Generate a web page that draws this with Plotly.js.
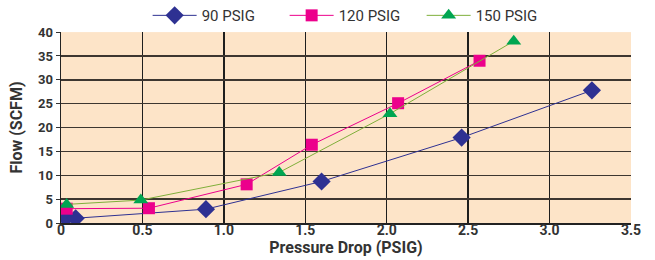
<!DOCTYPE html>
<html><head><meta charset="utf-8">
<script src="https://cdn.plot.ly/plotly-3.0.1.min.js"></script>
<style>html,body{margin:0;padding:0;background:#fff}#c{width:655px;height:260px}</style>
</head><body><div id="c"></div>
<script>
const seriesNames = ["90 PSIG", "120 PSIG", "150 PSIG"];
const x90 = [0.03, 0.09, 0.89, 1.60, 2.46, 3.26];
const y90 = [1.0, 1.0, 2.9, 8.7, 17.9, 27.8];
const x120 = [0.035, 0.54, 1.14, 1.54, 2.07, 2.57];
const y120 = [3.0, 3.1, 8.1, 16.4, 25.1, 34.0];
const x150 = [0.035, 0.49, 1.34, 2.02, 2.78];
const y150 = [3.9, 4.8, 10.6, 22.9, 38.1];
const xTickVals = [0, 0.5, 1.0, 1.5, 2.0, 2.5, 3.0, 3.5];
const xTickText = ["0", "0.5", "1.0", "1.5", "2.0", "2.5", "3.0", "3.5"];
const yTickVals = [0, 5, 10, 15, 20, 25, 30, 35, 40];

const F = 'Roboto, "Liberation Sans", Arial, sans-serif';
const traces = [
  {x: x90, y: y90, name: seriesNames[0], mode: 'lines+markers',
   line: {color: '#2E3192', width: 1}, marker: {symbol: 'diamond', size: 14, color: '#2E3192'}},
  {x: x120, y: y120, name: seriesNames[1], mode: 'lines+markers',
   line: {color: '#EC008C', width: 1}, marker: {symbol: 'square', size: 12, color: '#EC008C'}},
  {x: x150, y: y150, name: seriesNames[2], mode: 'lines+markers',
   line: {color: '#7FAF3A', width: 1}, marker: {symbol: 'triangle-up', size: 13, color: '#00A651'}}
];
const layout = {
  width: 655, height: 260,
  margin: {l: 61, r: 24, t: 30, b: 37},
  paper_bgcolor: '#fff', plot_bgcolor: '#FDE4C8',
  showlegend: true,
  legend: {orientation: 'h', x: 0.152, xanchor: 'left', yref: 'container', y: 0.94, yanchor: 'middle',
    font: {family: F, size: 15, color: '#333'}, itemwidth: 44, entrywidth: 78,
    bgcolor: 'rgba(0,0,0,0)'},
  xaxis: {range: [0, 3.5], tickvals: xTickVals, ticktext: xTickText,
    showgrid: true, gridcolor: '#1e1e1e', gridwidth: 1.3, zeroline: false,
    showline: true, linecolor: '#222', linewidth: 1.5,
    ticks: '', ticklabelstandoff: -6,
    tickfont: {family: F, size: 14, color: '#333', weight: 'bold'},
    title: {text: '<b>Pressure Drop (PSIG)</b>', font: {family: F, size: 16, color: '#333'}, standoff: 4}},
  yaxis: {range: [0, 40], tickvals: yTickVals,
    showgrid: true, gridcolor: '#3d3630', gridwidth: 1.5, zeroline: false,
    showline: true, linecolor: '#222', linewidth: 1.5,
    ticks: 'outside', ticklen: 4, tickcolor: '#333',
    tickfont: {family: F, size: 13, color: '#333', weight: 'bold'},
    title: {text: '<b>Flow (SCFM)</b>', font: {family: F, size: 16, color: '#333'}, standoff: 11}}
};
Plotly.newPlot('c', traces, layout, {displayModeBar: false, staticPlot: true});
</script></body></html>
